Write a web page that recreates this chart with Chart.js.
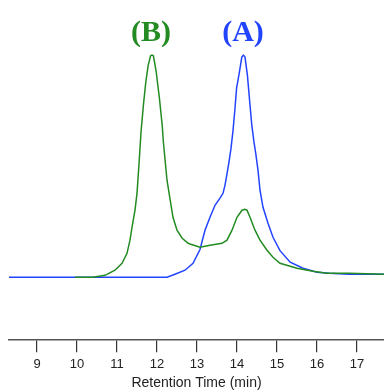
<!DOCTYPE html>
<html>
<head>
<meta charset="utf-8">
<script src="https://cdn.jsdelivr.net/npm/chart.js@4"></script>
<style>
html,body{margin:0;padding:0;background:#fff;}
#wrap{width:384px;height:392px;}
</style>
</head>
<body>
<div id="wrap"><canvas id="c" width="384" height="392"></canvas></div>
<script>
// Series B (green)
const timesB = [9.95, 10.4, 10.7, 10.95, 11.125, 11.25, 11.325, 11.375, 11.45, 11.5, 11.55, 11.6, 11.66, 11.72, 11.78, 11.84, 11.875, 11.91, 11.98, 12.06, 12.13, 12.16, 12.25, 12.33, 12.4, 12.5, 12.63, 12.78, 12.825, 13.075, 13.325, 13.625, 13.75, 13.875, 14.0, 14.125, 14.19, 14.25, 14.325, 14.45, 14.575, 14.75, 14.9, 15.075, 15.5, 15.9, 16.25, 16.8, 17.675];
const valuesB = [0, 0, 0.9, 3.2, 6.3, 10.8, 16.7, 22.5, 30.2, 37.8, 51, 65.3, 77.5, 87.8, 95.5, 99.7, 100, 99.7, 92.5, 80.6, 68.5, 60.8, 43.7, 34.7, 27.0, 21.2, 17.6, 15.3, 15.0, 13.5, 14.4, 15.3, 16.7, 21.2, 27.0, 30.2, 30.6, 30.2, 27.0, 21.2, 16.7, 12.2, 9.0, 6.3, 4.1, 2.7, 1.8, 1.8, 1.4];
// Series A (blue)
const timesA = [8.3, 12.25, 12.45, 12.7, 12.9, 13.075, 13.2, 13.325, 13.45, 13.575, 13.65, 13.7, 13.75, 13.8, 13.85, 13.9, 13.95, 13.99, 14.06, 14.12, 14.16, 14.2, 14.26, 14.31, 14.37, 14.425, 14.47, 14.525, 14.575, 14.65, 14.775, 14.9, 15.075, 15.33, 15.65, 16.0, 16.3, 16.8, 17.675];
const valuesA = [0, 0, 1.4, 3.2, 6.3, 12.5, 21.2, 27.0, 32.4, 35.6, 37.8, 41.5, 46.5, 52, 58, 66, 76.1, 85.1, 92.3, 99.1, 100, 99.1, 91, 80.6, 68.5, 60.8, 55.5, 48.2, 39.2, 31.5, 24.3, 18.0, 12.0, 6.8, 4.1, 2.3, 1.8, 1.4, 1.4];
const xTicks = [9, 10, 11, 12, 13, 14, 15, 16, 17];
const peakLabels = ['(B)', '(A)'];
const peakTimes = [11.85, 14.15];

const GREEN = '#228B22';
const BLUE = '#2244ff';

const toPts = (t, v) => t.map((x, i) => ({x: x, y: v[i]}));

const peakLabelPlugin = {
  id: 'peakLabels',
  afterDatasetsDraw(chart) {
    const ctx = chart.ctx;
    const xs = chart.scales.x;
    const colors = [GREEN, BLUE];
    ctx.save();
    ctx.font = 'bold 30px "Liberation Serif", "Times New Roman", serif';
    ctx.textAlign = 'center';
    ctx.textBaseline = 'alphabetic';
    peakLabels.forEach((lab, i) => {
      ctx.fillStyle = colors[i];
      ctx.fillText(lab, xs.getPixelForValue(peakTimes[i]), 41);
    });
    ctx.restore();
  }
};

new Chart(document.getElementById('c'), {
  type: 'line',
  data: {
    datasets: [
      {label: 'B', data: toPts(timesB, valuesB), borderColor: GREEN, borderWidth: 1.5, pointRadius: 0, tension: 0, fill: false},
      {label: 'A', data: toPts(timesA, valuesA), borderColor: BLUE, borderWidth: 1.5, pointRadius: 0, tension: 0, fill: false}
    ]
  },
  options: {
    responsive: false,
    animation: false,
    layout: {padding: {left: 9, right: 0, top: 0, bottom: 0}},
    plugins: {legend: {display: false}, tooltip: {enabled: false}},
    scales: {
      x: {
        type: 'linear',
        min: 8.3,
        max: 17.675,
        afterBuildTicks: (s) => { s.ticks = xTicks.map(v => ({value: v})); },
        grid: {drawOnChartArea: false, drawTicks: true, tickLength: 13, color: '#333', lineWidth: 1.2},
        border: {display: true, color: '#555', width: 1.5},
        ticks: {padding: 4.3, color: '#222', font: {family: '"Liberation Sans", Arial, sans-serif', size: 13}, maxRotation: 0},
        title: {display: true, text: 'Retention Time (min)', color: '#222', padding: {top: 0, bottom: 1.5}, font: {family: '"Liberation Sans", Arial, sans-serif', size: 14, lineHeight: 1.0}}
      },
      y: {
        display: false,
        min: -27.9,
        max: 124.8
      }
    }
  },
  plugins: [peakLabelPlugin]
});
</script>
</body>
</html>
